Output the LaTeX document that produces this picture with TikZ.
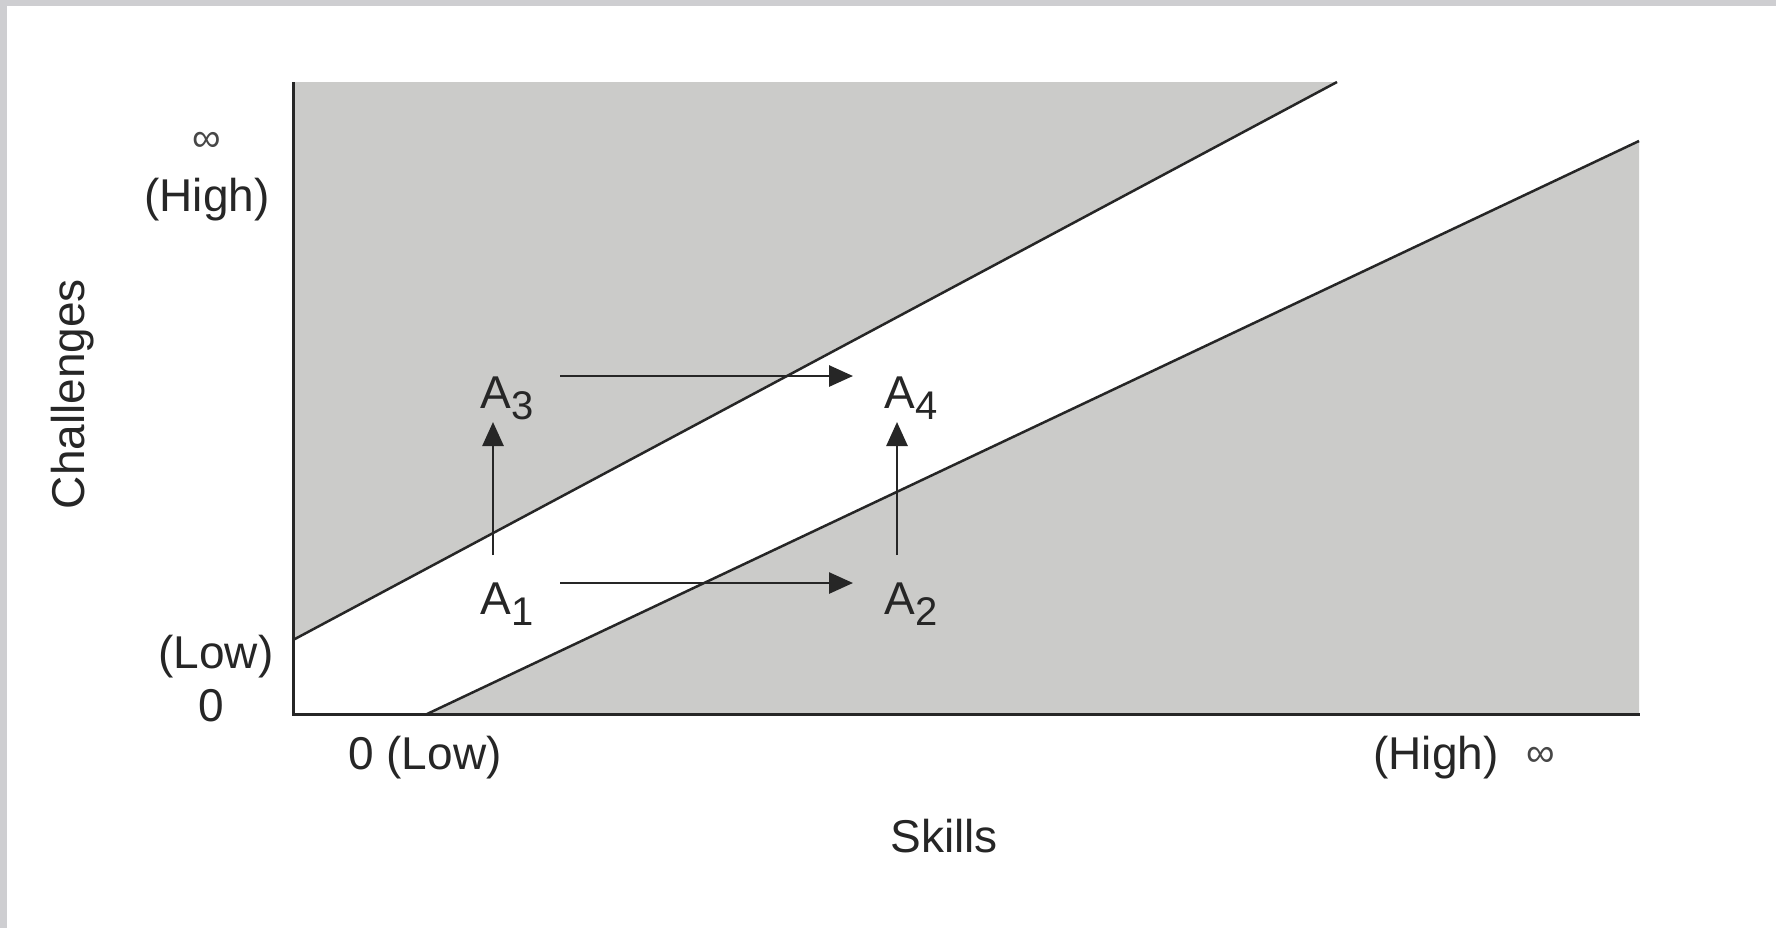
\documentclass[tikz,border=0pt]{standalone}
\usepackage{fontspec}
\setmainfont{Liberation Sans}
\usetikzlibrary{arrows.meta}
\definecolor{regiongray}{RGB}{203,203,201}
\definecolor{framegray}{RGB}{206,206,209}
\definecolor{inkgray}{RGB}{38,38,38}
\newcommand\Asub[1]{A\raisebox{-5.5pt}{\fontsize{20}{20}\selectfont #1}}
\begin{document}
\begin{tikzpicture}[x=0.5pt,y=-0.5pt,
  lbl/.style={font=\fontsize{23}{27}\selectfont, text=inkgray, inner sep=0pt},
  inf/.style={font=\fontsize{20}{24}\selectfont, text=inkgray!85, inner sep=0pt},
  bound/.style={draw=inkgray, line width=1.25pt},
  axisline/.style={draw=inkgray, line width=1.5pt},
  move/.style={-{Triangle[length=12pt,width=10.5pt]}, draw=inkgray, line width=1.35pt}]
\useasboundingbox (0,0) rectangle (1776,928);
\fill[white] (0,0) rectangle (1776,928);
\fill[framegray] (0,0) rectangle (1776,6);
\fill[framegray] (0,0) rectangle (7,928);
% plot geometry
\coordinate (O) at (293,714);
\coordinate (Ytop) at (293,82);
\coordinate (Xend) at (1640,714);
\coordinate (U0) at (293,640);
\coordinate (U1) at (1337,82);
\coordinate (L0) at (427,714);
\coordinate (L1) at (1639,141);
\coordinate (LR) at (1639,714);
\fill[regiongray] (Ytop) -- (U1) -- (U0) -- cycle;
\fill[regiongray] (L0) -- (L1) -- (LR) -- cycle;
\draw[bound] (U0) -- (U1);
\draw[bound] (L0) -- (L1);
\draw[axisline] (Ytop) -- (O) -- (Xend);
% axis labels
\node[inf] (yinf) at (207,142) {∞};
\node[lbl, anchor=base] (yhigh) at (207,211) {(High)};
\node[lbl, anchor=base] (ylow) at (216,668) {(Low)};
\node[lbl, anchor=base] (yzero) at (211,721) {0};
\node[lbl, anchor=base] (xlow) at (425,769) {0 (Low)};
\node[lbl, anchor=base] (xhigh) at (1436,769) {(High)};
\node[inf] (xinf) at (1541,757) {∞};
\node[lbl, anchor=base] (skills) at (944,852) {Skills};
\node[lbl, rotate=90, anchor=base] (chal) at (84,394) {Challenges};
% state labels
\node[lbl, anchor=base west] (A3) at (480,408) {\Asub{3}};
\node[lbl, anchor=base west] (A4) at (884,408) {\Asub{4}};
\node[lbl, anchor=base west] (A1) at (480,614) {\Asub{1}};
\node[lbl, anchor=base west] (A2) at (884,614) {\Asub{2}};
% arrow end points
\coordinate (a3out) at (560,376);
\coordinate (a4in) at (853,376);
\coordinate (a1out) at (560,583);
\coordinate (a2in) at (853,583);
\coordinate (a1up) at (493,555);
\coordinate (a3dn) at (493,422);
\coordinate (a2up) at (897,555);
\coordinate (a4dn) at (897,422);
\draw[move] (a3out) -- (a4in);
\draw[move] (a1out) -- (a2in);
\draw[move] (a1up) -- (a3dn);
\draw[move] (a2up) -- (a4dn);
\end{tikzpicture}
\end{document}
